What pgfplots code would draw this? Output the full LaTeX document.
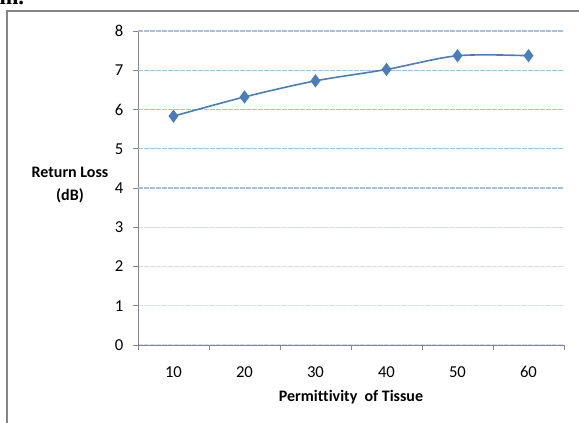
\documentclass[border=0pt]{standalone}
\usepackage{pgfplots}
\pgfplotsset{compat=1.18}
\usepackage{fontspec}
\setmainfont[Ligatures={NoCommon}]{Carlito}
\newfontfamily\serifm{Liberation Serif}
\definecolor{lineblue}{RGB}{74,126,187}
\definecolor{axgray}{RGB}{134,134,134}
\definecolor{gridtop}{RGB}{165,190,230}
\definecolor{gridlow}{RGB}{208,220,242}
\begin{document}
\begin{tikzpicture}
\useasboundingbox (-103.5pt,-58.5pt) rectangle (330.75pt,258.75pt);
\draw[axgray, line width=1.1pt] (-98.25pt,-80pt) -- (-98.25pt,250.5pt) -- (350pt,250.5pt);
\node[anchor=base west, inner sep=0pt, font=\serifm\bfseries\fontsize{17}{17}\selectfont] at (-104pt,255.5pt) {m.};
\begin{axis}[
  at={(0,0)}, anchor=south west,
  scale only axis,
  width=319.5pt, height=235.5pt,
  xmin=5, xmax=65, ymin=0, ymax=8,
  axis x line*=bottom, axis y line*=left,
  axis line style={axgray, line width=0.6pt},
  xtick={10,20,30,40,50,60},
  minor xtick={5,15,25,35,45,55,65},
  every major x tick/.append style={draw=none},
  every minor x tick/.append style={axgray, line width=0.6pt},
  ytick={0,1,2,3},
  extra y ticks={4,5,6,7,8},
  extra y tick style={grid=major, major grid style={gridtop, dash pattern=on 3.4pt off 1.1pt, line width=1pt}},
  ymajorgrids,
  major grid style={gridlow, dash pattern=on 3.4pt off 1.1pt, line width=1pt},
  tick align=outside,
  major tick length=3.5pt, minor tick length=3.5pt,
  every tick/.append style={axgray, line width=0.6pt},
  tick label style={font=\fontsize{12.5}{14}\selectfont},
  /pgf/number format/assume math mode=true,
  xticklabel style={anchor=base, yshift=-21pt},
  yticklabel style={xshift=-4pt},
  xlabel={Permittivity\ \ of Tissue},
  xlabel style={font=\bfseries\fontsize{12}{14}\selectfont, at={(axis description cs:0.5,0)}, anchor=center, yshift=-39pt},
  ylabel={Return Loss\\(dB)},
  ylabel style={font=\bfseries\fontsize{12}{17}\selectfont, rotate=-90, align=center, at={(axis description cs:0,0.51)}, anchor=center, xshift=-51pt},
  clip=false,
]
\addplot[lineblue, line width=1.2pt, smooth, mark=diamond*, mark size=4pt, mark options={solid, fill=lineblue, draw=lineblue}]
  coordinates {(10,5.83) (20,6.32) (30,6.73) (40,7.02) (50,7.37) (60,7.37)};
\end{axis}
\end{tikzpicture}
\end{document}
